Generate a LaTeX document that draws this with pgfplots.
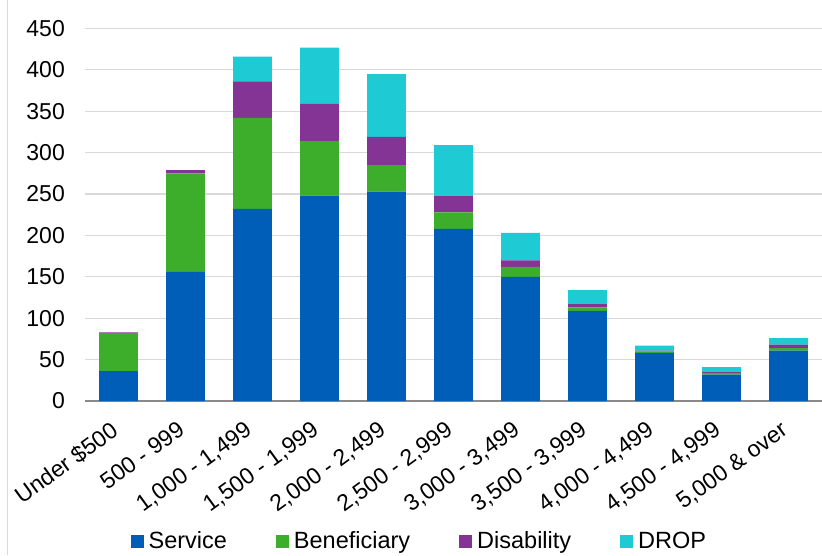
\documentclass[border=0pt]{standalone}
\usepackage{pgfplots}
\pgfplotsset{compat=1.18}
\usepackage{fontspec}
\setmainfont{Liberation Sans}

\definecolor{service}{RGB}{0,94,184}
\definecolor{benef}{RGB}{61,174,43}
\definecolor{disab}{RGB}{132,52,148}
\definecolor{drop}{RGB}{30,202,211}
\definecolor{gridc}{RGB}{217,217,217}
\definecolor{axisc}{RGB}{137,137,137}

\begin{document}
\begin{tikzpicture}
\useasboundingbox (0,0) rectangle (822pt,555pt);
\draw[gridc, line width=0.8pt] (7pt,0pt) -- (7pt,555pt);
\begin{axis}[
  at={(85pt,154pt)}, anchor=south west,
  scale only axis, width=737pt, height=372.5pt,
  ybar stacked, bar width=0.58,
  xmin=-0.5, xmax=10.5, ymin=0, ymax=450,
  xtick={0,...,10},
  xticklabels={Under \$500, 500 - 999, {1,000 - 1,499}, {1,500 - 1,999},
    {2,000 - 2,499}, {2,500 - 2,999}, {3,000 - 3,499}, {3,500 - 3,999},
    {4,000 - 4,499}, {4,500 - 4,999}, {5,000 \& over}},
  ytick={0,50,...,450},
  axis x line*=bottom, axis y line*=left,
  x axis line style={draw=axisc, line width=1.2pt, -},
  y axis line style={draw=none},
  major tick length=0pt,
  ymajorgrids, grid style={gridc, line width=1.2pt},
  yticklabel style={font=\fontsize{23}{27}\selectfont, inner sep=0pt, xshift=-20pt},
  /pgf/number format/assume math mode=true,
  xticklabel style={font=\fontsize{23}{27}\selectfont, yshift=-19pt, xshift=-9pt,
    rotate=36, anchor=north east, inner sep=0pt},
  legend columns=4,
  legend style={at={(0.453,-0.376)}, anchor=center, draw=none,
    font=\fontsize{23.5}{27}\selectfont,
    nodes={inner sep=1pt},
    /tikz/every odd column/.append style={column sep=4pt},
    /tikz/every even column/.append style={column sep=48pt}},
  legend image code/.code={\path[#1, draw=none] (0pt,-6.5pt) rectangle (13pt,6.5pt);},
]
\addplot[fill=service, draw=none] coordinates {
  (0,36) (1,156) (2,232) (3,248) (4,253) (5,208) (6,150) (7,109) (8,58) (9,32) (10,61)};
\addplot[fill=benef, draw=none] coordinates {
  (0,46) (1,119) (2,110) (3,66) (4,32) (5,20) (6,12) (7,4) (8,2) (9,2) (10,3)};
\addplot[fill=disab, draw=none] coordinates {
  (0,1) (1,4) (2,44) (3,45) (4,34) (5,20) (6,8) (7,4) (8,1) (9,1) (10,4)};
\addplot[fill=drop, draw=none] coordinates {
  (0,0) (1,0) (2,30) (3,68) (4,76) (5,61) (6,33) (7,17) (8,6) (9,6) (10,8)};
\legend{Service, Beneficiary, Disability, DROP}
\end{axis}
\end{tikzpicture}
\end{document}
